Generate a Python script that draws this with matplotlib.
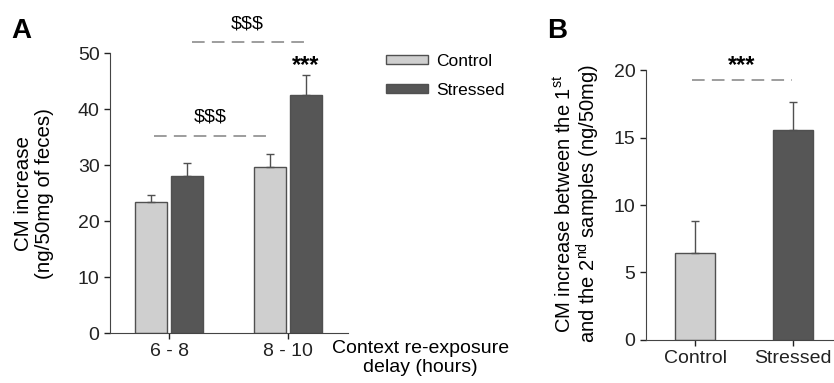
import matplotlib.pyplot as plt
import numpy as np

plt.rcParams['font.family'] = ['Liberation Sans', 'DejaVu Sans']

# ---- data ----
delays = ['6 - 8', '8 - 10']
control_mean = [23.4, 29.7]
control_sem = [1.2, 2.3]
stressed_mean = [28.0, 42.5]
stressed_sem = [2.4, 3.6]

groups_b = ['Control', 'Stressed']
diff_mean = [6.47, 15.56]
diff_sem = [2.33, 2.09]

light = '#cfcfcf'
dark = '#565656'
edge = '#505050'
dash_col = '#959595'
fs = 14

fig = plt.figure(figsize=(8.34, 3.83), dpi=100)

# ---- panel A ----
axA = fig.add_axes([0.1319, 0.1305, 0.2854, 0.7303])
x = np.arange(len(delays))
w = 0.27
off = 0.148
err_kw = dict(ecolor=edge, elinewidth=1.0, capsize=3, capthick=1.0)
axA.bar(x - off, control_mean, w, color=light, edgecolor=edge, linewidth=1.0,
        yerr=[np.zeros(2), control_sem], error_kw=err_kw, label='Control')
axA.bar(x + off, stressed_mean, w, color=dark, edgecolor=edge, linewidth=1.0,
        yerr=[np.zeros(2), stressed_sem], error_kw=err_kw, label='Stressed')
axA.set_xlim(-0.496, 1.504)
axA.set_ylim(0, 50)
axA.set_yticks([0, 10, 20, 30, 40, 50])
axA.set_xticks(x)
axA.set_xticklabels(delays)
axA.set_ylabel('CM increase\n(ng/50mg of feces)', fontsize=14.8, linespacing=1.15)
axA.yaxis.set_label_coords(-0.235, 0.5)
axA.tick_params(labelsize=fs, colors='#222222', length=4, width=1)
for s in ['top', 'right']:
    axA.spines[s].set_visible(False)
for s in ['left', 'bottom']:
    axA.spines[s].set_color('#444444')

# significance marks
axA.plot([0.193, 1.135], [52.0, 52.0], color=dash_col, lw=1.3, ls=(0, (7, 4)),
         clip_on=False)
axA.text(0.66, 55.2, '$$$', ha='center', va='center', fontsize=fs)
axA.plot([-0.13, 0.82], [35.2, 35.2], color=dash_col, lw=1.3, ls=(0, (7, 4)))
axA.text(0.35, 38.6, '$$$', ha='center', va='center', fontsize=fs)
axA.text(1 + off, 47.9, '***', ha='center', va='center', fontsize=17,
         fontweight='bold')

axA.legend(loc='upper left', bbox_to_anchor=(1.095, 1.054), frameon=False,
           fontsize=12.5, handlelength=2.4, handleheight=0.45, labelspacing=0.8,
           handletextpad=0.5)

fig.text(0.504, 0.065, 'Context re-exposure\ndelay (hours)', ha='center',
         va='center', fontsize=fs, linespacing=1.15)
fig.text(0.014, 0.92, 'A', fontsize=20, fontweight='bold', va='center')

# ---- panel B ----
axB = fig.add_axes([0.7742, 0.1123, 0.2245, 0.7049])
xb = np.arange(len(groups_b))
axB.bar(xb, diff_mean, 0.41, color=[light, dark], edgecolor=edge, linewidth=1.0,
        yerr=[np.zeros(2), diff_sem], error_kw=err_kw)
axB.set_xlim(-0.505, 1.41)
axB.set_ylim(0, 20)
axB.set_yticks([0, 5, 10, 15, 20])
axB.set_xticks(xb)
axB.set_xticklabels(groups_b)
axB.set_ylabel('CM increase between the 1$^{\\mathregular{st}}$\n'
               'and the 2$^{\\mathregular{nd}}$ samples (ng/50mg)',
               fontsize=fs + 0.5, linespacing=1.0)
axB.yaxis.set_label_coords(-0.234, 0.505)
axB.tick_params(labelsize=fs, colors='#222222', length=4, width=1)
for s in ['top', 'right']:
    axB.spines[s].set_visible(False)
for s in ['left', 'bottom']:
    axB.spines[s].set_color('#444444')

axB.plot([-0.03, 0.99], [19.26, 19.26], color=dash_col, lw=1.3, ls=(0, (7, 4)))
axB.text(0.48, 20.3, '***', ha='center', va='center', fontsize=17,
         fontweight='bold')
fig.text(0.656, 0.92, 'B', fontsize=20, fontweight='bold', va='center')

fig.savefig('out.png', dpi=100)
